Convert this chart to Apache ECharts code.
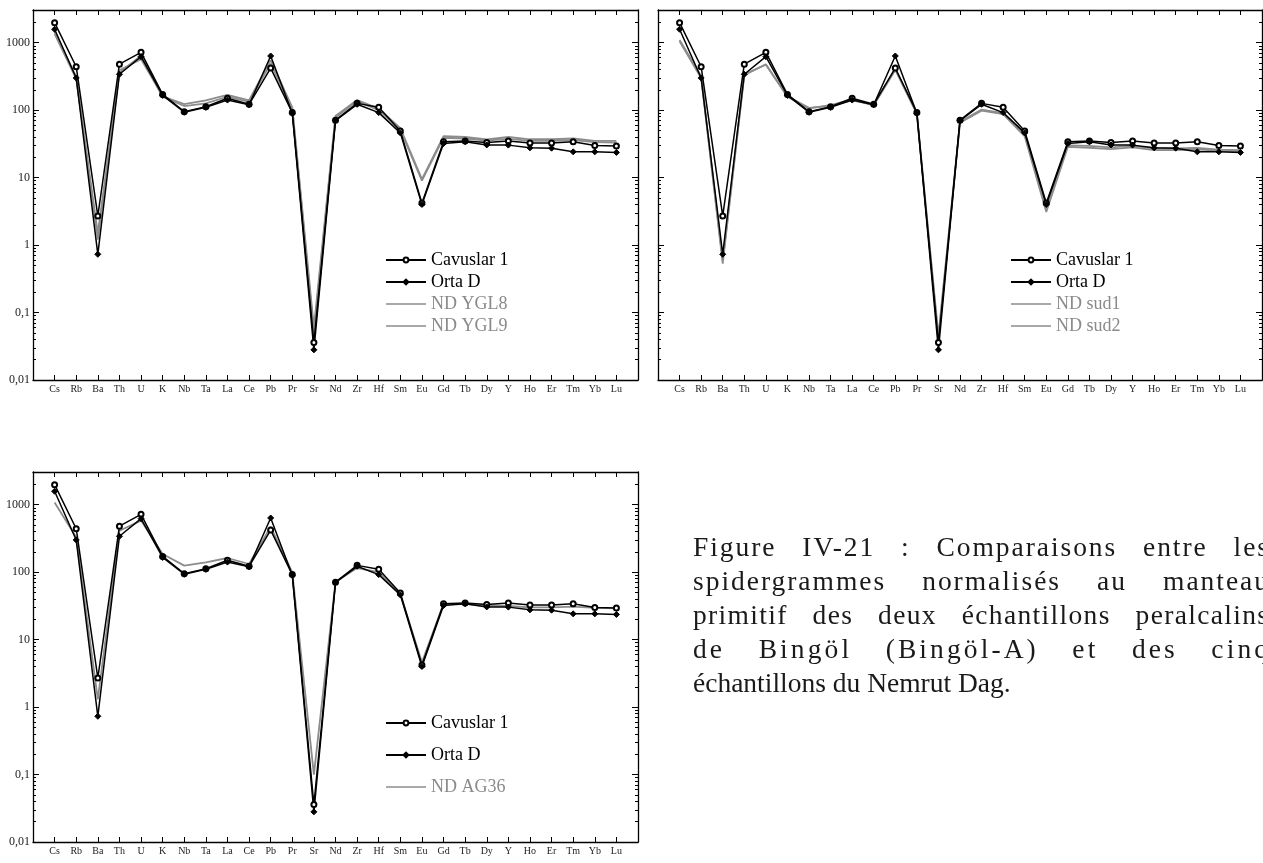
<!DOCTYPE html>
<html><head><meta charset="utf-8">
<script src="https://cdn.jsdelivr.net/npm/echarts@6/dist/echarts.min.js"></script>
<style>
html,body{margin:0;padding:0;width:1263px;height:863px;overflow:hidden;background:#fff;}
#chart{position:absolute;left:0;top:0;width:1263px;height:863px;}
#caption{position:absolute;left:693px;top:530px;width:575px;font-family:"Liberation Serif","Times New Roman",serif;font-size:27.5px;line-height:34px;color:#1a1a1a;}
#caption div{white-space:nowrap;}
#caption span{display:inline-block;white-space:nowrap;}
</style></head>
<body>
<div id="chart"></div>
<div id="caption">
  <div><span class="j">Figure IV-21 : Comparaisons entre les</span></div>
  <div><span class="j">spidergrammes normalisés au manteau</span></div>
  <div><span class="j">primitif des deux échantillons peralcalins</span></div>
  <div><span class="j">de Bingöl (Bingöl-A) et des cinq</span></div>
  <div><span>échantillons du Nemrut Dag.</span></div>
</div>
<script>
const elements = ['Cs','Rb','Ba','Th','U','K','Nb','Ta','La','Ce','Pb','Pr','Sr','Nd','Zr','Hf','Sm','Eu','Gd','Tb','Dy','Y','Ho','Er','Tm','Yb','Lu'];

const cavuslar1 = [1980, 440, 2.7, 480, 720, 171, 95, 112, 150, 122, 420, 92, 0.036, 71, 126, 110, 49, 4.2, 34, 35, 33, 35, 32.5, 32.5, 34, 30, 29.5];
const ortaD     = [1580, 300, 0.73, 340, 620, 165, 93, 110, 141, 120, 635, 90, 0.028, 70, 122, 92, 46, 4.0, 32, 34, 30.5, 30.3, 27.6, 27.3, 24.1, 24.1, 23.6];

const ndYGL8 = [1450, 310, 1.2, 390, 570, 160, 123, 140, 168, 140, 550, 110, 0.06, 82, 141, 105, 54, 9.5, 41, 40, 37, 40, 37, 37, 38, 35, 35];
const ndYGL9 = [1350, 290, 1.5, 360, 640, 158, 115, 126, 158, 133, 490, 103, 0.05, 78, 135, 100, 51, 9.0, 39, 38, 35.5, 37.5, 35, 35, 36, 33.5, 33];

const ndSud1 = [1100, 320, 0.53, 330, 480, 158, 106, 119, 145, 118, 394, 88, 0.04, 65, 98, 87, 41, 3.1, 28.6, 27.7, 26.5, 28, 25.6, 25.6, 26.2, 24.9, 24.5];
const ndSud2 = [1050, 300, 0.6, 340, 470, 160, 108, 116, 140, 120, 410, 90, 0.045, 67, 102, 90, 43, 3.5, 30, 29.5, 28, 29.5, 27, 27, 27.5, 26, 25.5];

const ndAG36 = [1080, 330, 1.3, 410, 580, 186, 125, 140, 162, 132, 470, 99, 0.1, 72, 115, 100, 47, 4.6, 33.8, 33.8, 32, 31.5, 30, 30, 30.8, 29.5, 29];

const yTickValues = [0.01, 0.1, 1, 10, 100, 1000];
const yTickLabels = ['0,01', '0,1', '1', '10', '100', '1000'];
const yMin = 0.01, yMax = 3050;

const FONT = '"Liberation Serif","Times New Roman",serif';
const BLACK = '#000';
const GRAY = '#8c8c8c';

// justify caption lines: share the extra width between letter and word spacing
(function () {
  const W = 575, f = 0.45;
  document.querySelectorAll('#caption span.j').forEach(sp => {
    const txt = sp.textContent;
    const w = sp.getBoundingClientRect().width;
    const n = txt.length;
    const nSp = txt.split(' ').length - 1;
    const extra = Math.max(0, W - w);
    const ls = f * extra / (n - 1);
    const ws = (1 - f) * extra / nSp;
    sp.style.letterSpacing = ls.toFixed(3) + 'px';
    sp.style.wordSpacing = ws.toFixed(3) + 'px';
  });
})();

const yMinorTicks = [];
yTickValues.forEach(d => { for (let k = 2; k <= 9; k++) { const v = +(d * k).toPrecision(3); if (v < yMax) yMinorTicks.push(v); } });

const grids = [
  {left: 33, top: 10, width: 605, height: 370},
  {left: 658, top: 10, width: 604, height: 370},
  {left: 33, top: 472, width: 605, height: 370}
];

const xAxes = [], yAxes = [], series = [];
const axisLineStyle = {color: BLACK, width: 1.3};

function fmtY(v) {
  const i = yTickValues.findIndex(t => Math.abs(Math.log10(t) - Math.log10(v)) < 1e-6);
  return i >= 0 ? yTickLabels[i] : '';
}

grids.forEach((g, gi) => {
  ['bottom', 'top'].forEach(pos => {
    xAxes.push({
      type: 'value', gridIndex: gi, position: pos, min: 0, max: elements.length + 1, interval: 1,
      axisLine: {show: true, onZero: false, lineStyle: axisLineStyle},
      axisTick: {show: true, inside: true, length: 5, lineStyle: {color: BLACK, width: 1}, customValues: elements.map((e, i) => i + 1)},
      axisLabel: {show: pos === 'bottom', customValues: elements.map((e, i) => i + 1), formatter: v => elements[Math.round(v) - 1] || '', fontFamily: FONT, fontSize: 10, color: '#222', margin: 4},
      splitLine: {show: false}
    });
  });
  ['left', 'right'].forEach(pos => {
    yAxes.push({
      type: 'log', logBase: 10, gridIndex: gi, position: pos, min: yMin, max: yMax,
      axisLine: {show: true, onZero: false, lineStyle: axisLineStyle},
      axisTick: {show: true, inside: true, length: 6, lineStyle: {color: BLACK, width: 1}, customValues: yTickValues},
      axisLabel: {show: pos === 'left' && gi !== 1, customValues: yTickValues, formatter: fmtY, fontFamily: FONT, fontSize: 12, color: '#222', margin: 3},
      splitLine: {show: false}
    });
    yAxes.push({
      type: 'log', logBase: 10, gridIndex: gi, position: pos, min: yMin, max: yMax,
      axisLine: {show: false, onZero: false},
      axisTick: {show: true, inside: true, length: 3, lineStyle: {color: BLACK, width: 1}, customValues: yMinorTicks},
      axisLabel: {show: false},
      splitLine: {show: false}
    });
  });
});

function toData(arr) { return elements.map((e, i) => [i + 1, arr[i]]); }

function graySeries(name, arr, gi) {
  return {type: 'line', name, xAxisIndex: gi * 2, yAxisIndex: gi * 4, data: toData(arr),
    symbol: 'none', lineStyle: {color: GRAY, width: 1.8}, itemStyle: {color: GRAY}, silent: true, z: 2};
}
function blackSeries(name, arr, gi, sym, size) {
  return {type: 'line', name, xAxisIndex: gi * 2, yAxisIndex: gi * 4, data: toData(arr),
    symbol: sym, symbolSize: size, showSymbol: true,
    lineStyle: {color: BLACK, width: 1.5}, itemStyle: {color: BLACK, borderColor: BLACK, borderWidth: 1}, silent: true, z: 3};
}

const sets = [[['ND YGL8', ndYGL8], ['ND YGL9', ndYGL9]], [['ND sud1', ndSud1], ['ND sud2', ndSud2]], [['ND AG36', ndAG36]]];
sets.forEach((grays, gi) => {
  grays.forEach(([n, a]) => series.push(graySeries(n, a, gi)));
  series.push(blackSeries('Cavuslar 1', cavuslar1, gi, 'emptyCircle', 5));
  series.push(blackSeries('Orta D', ortaD, gi, 'diamond', 6));
});

const grayIcon = 'path://M0,0 L40,0 L40,1.6 L0,1.6 Z';
function legendOf(left, top, gap, grayNames) {
  return {
    orient: 'vertical', left, top, itemWidth: 40, itemHeight: 6, itemGap: gap, selectedMode: false,
    textStyle: {fontFamily: FONT, fontSize: 18, color: '#000'},
    data: [{name: 'Cavuslar 1'}, {name: 'Orta D'}].concat(grayNames.map(n => ({name: n, icon: grayIcon, textStyle: {color: '#8a8a8a'}})))
  };
}

const option = {
  animation: false,
  textStyle: {fontFamily: FONT},
  grid: grids,
  xAxis: xAxes,
  yAxis: yAxes,
  legend: [
    legendOf(380, 246, 4, ['ND YGL8', 'ND YGL9']),
    legendOf(1005, 246, 4, ['ND sud1', 'ND sud2']),
    legendOf(380, 709, 14, ['ND AG36'])
  ],
  series
};

const chart = echarts.init(document.getElementById('chart'), null, {renderer: 'canvas'});
chart.setOption(option);
</script>
</body></html>
